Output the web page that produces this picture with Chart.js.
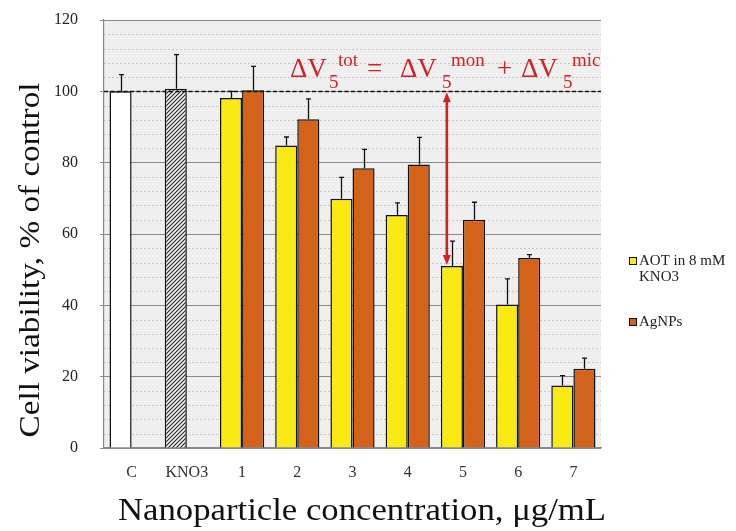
<!DOCTYPE html>
<html><head><meta charset="utf-8">
<script src="https://cdn.jsdelivr.net/npm/chart.js@4"></script>
<style>html,body{margin:0;padding:0;background:#fff}#wrap{width:736px;height:531px;position:relative}</style>
</head><body><div id="wrap"><canvas id="c" width="736" height="531"></canvas></div>
<script>
const categories = ['C', 'KNO3', '1', '2', '3', '4', '5', '6', '7'];
const aotValues = [100, 100.7, 98.1, 84.8, 69.9, 65.3, 51.0, 40.2, 17.5];
const aotErrors = [4.7, 9.6, 1.9, 2.4, 6.0, 3.4, 7.0, 7.2, 2.8];
const agValues = [null, null, 100.3, 92.2, 78.4, 79.5, 64.0, 53.3, 22.2];
const agErrors = [null, null, 6.7, 5.7, 5.3, 7.6, 4.9, 0.9, 3.0];
const yTicks = [0, 20, 40, 60, 80, 100, 120];
const minorStep = 4;
const refLine = 100;
const arrowIndex = 6;
const seriesNames = ['AOT in 8 mM', 'AgNPs'];
const legendSecondLine = 'KNO3';
const yTitle = 'Cell viability, % of control';
const xTitle = 'Nanoparticle concentration, \u03BCg/mL';

const YELLOW = '#f8ea12';
const ORANGE = '#d3621b';
const RED = '#d42027';
const SERIF = "'Liberation Serif', 'DejaVu Serif', serif";

function hatchPattern() {
  const p = document.createElement('canvas');
  p.width = 4; p.height = 4;
  const g = p.getContext('2d');
  g.fillStyle = '#f4f4f4'; g.fillRect(0, 0, 4, 4);
  g.strokeStyle = '#222'; g.lineWidth = 1.1;
  g.beginPath();
  g.moveTo(-1, 5); g.lineTo(5, -1);
  g.moveTo(-1, 1); g.lineTo(1, -1);
  g.moveTo(3, 5); g.lineTo(5, 3);
  g.stroke();
  return document.getElementById('c').getContext('2d').createPattern(p, 'repeat');
}
const hatch = hatchPattern();
const aotColors = categories.map((c, i) => i === 0 ? '#ffffff' : (i === 1 ? hatch : YELLOW));

function fitText(ctx, text, cx, cy, width) {
  const w = ctx.measureText(text).width;
  ctx.save();
  ctx.translate(cx, cy);
  ctx.scale(width / w, 1);
  ctx.fillText(text, 0, 0);
  ctx.restore();
}

const decor = {
  id: 'decor',
  beforeDraw(chart) {
    const { ctx, chartArea: a } = chart;
    ctx.save();
    ctx.fillStyle = '#efefef';
    ctx.fillRect(a.left, a.top, a.right - a.left, a.bottom - a.top);
    ctx.restore();
  },
  beforeDatasetsDraw(chart) {
    const { ctx, chartArea: a, scales: { y } } = chart;
    ctx.save();
    ctx.strokeStyle = '#c6c6c6';
    ctx.lineWidth = 1;
    ctx.setLineDash([2, 2]);
    for (let v = yTicks[0]; v <= yTicks[yTicks.length - 1]; v += minorStep) {
      if (yTicks.includes(v)) continue;
      const py = Math.round(y.getPixelForValue(v)) + 0.5;
      ctx.beginPath(); ctx.moveTo(a.left, py); ctx.lineTo(a.right, py); ctx.stroke();
    }
    ctx.restore();
  },
  afterDatasetsDraw(chart) {
    const { ctx, chartArea: a, scales: { y } } = chart;
    ctx.save();
    const errs = [aotErrors, agErrors];
    const vals = [aotValues, agValues];
    ctx.strokeStyle = '#111';
    ctx.lineWidth = 1.3;
    for (let d = 0; d < 2; d++) {
      const meta = chart.getDatasetMeta(d);
      meta.data.forEach((bar, i) => {
        if (vals[d][i] == null || errs[d][i] == null) return;
        const x = Math.round(bar.x) + 0.5;
        const y0 = y.getPixelForValue(vals[d][i]);
        const y1 = y.getPixelForValue(vals[d][i] + errs[d][i]);
        ctx.beginPath();
        ctx.moveTo(x, y0); ctx.lineTo(x, y1);
        ctx.moveTo(x - 2.5, y1); ctx.lineTo(x + 2.5, y1);
        ctx.stroke();
      });
    }
    const yr = Math.round(y.getPixelForValue(refLine)) + 0.5;
    ctx.strokeStyle = '#111';
    ctx.lineWidth = 1.4;
    ctx.setLineDash([4, 2.5]);
    ctx.beginPath(); ctx.moveTo(a.left, yr); ctx.lineTo(a.right, yr); ctx.stroke();
    ctx.setLineDash([]);
    const bar = chart.getDatasetMeta(0).data[arrowIndex];
    const ax = bar.x - bar.width * 0.23;
    const yt = y.getPixelForValue(refLine) + 1;
    const yb = y.getPixelForValue(aotValues[arrowIndex]) - 1;
    ctx.strokeStyle = RED; ctx.fillStyle = RED; ctx.lineWidth = 2.6;
    ctx.beginPath(); ctx.moveTo(ax, yt + 8); ctx.lineTo(ax, yb - 8); ctx.stroke();
    ctx.beginPath(); ctx.moveTo(ax, yt); ctx.lineTo(ax - 4, yt + 10); ctx.lineTo(ax + 4, yt + 10); ctx.closePath(); ctx.fill();
    ctx.beginPath(); ctx.moveTo(ax, yb); ctx.lineTo(ax - 4, yb - 10); ctx.lineTo(ax + 4, yb - 10); ctx.closePath(); ctx.fill();
    ctx.restore();
  },
  afterDraw(chart) {
    const { ctx, chartArea: a } = chart;
    ctx.save();
    ctx.fillStyle = RED;
    ctx.textBaseline = 'alphabetic';
    ctx.textAlign = 'left';
    const big = '27px ' + SERIF, small = '19px ' + SERIF;
    const L = a.left;
    const parts = [
      ['\u0394V', big, 186, 77], ['5', small, 225, 88], ['tot', small, 234, 66],
      ['=', big, 263, 77],
      ['\u0394V', big, 296, 77], ['5', small, 338, 88], ['mon', small, 347, 66],
      ['+', big, 393, 77],
      ['\u0394V', big, 417, 77], ['5', small, 459, 88], ['mic', small, 468, 66]
    ];
    parts.forEach(([t, f, dx, by]) => { ctx.font = f; ctx.fillText(t, L + dx, by); });
    ctx.font = '15px ' + SERIF;
    ctx.textBaseline = 'middle';
    const lx = 629;
    const items = [[YELLOW, 261], [ORANGE, 322]];
    items.forEach(([col, yy], k) => {
      ctx.fillStyle = col;
      ctx.fillRect(lx, yy - 3.5, 7, 7);
      ctx.strokeStyle = '#111'; ctx.lineWidth = 1;
      ctx.strokeRect(lx + 0.5, yy - 3.5, 7, 7);
      ctx.fillStyle = '#222';
      ctx.fillText(seriesNames[k], lx + 10, yy);
    });
    ctx.fillText(legendSecondLine, lx + 10, 277);
    ctx.fillStyle = '#111';
    ctx.textAlign = 'center';
    ctx.textBaseline = 'middle';
    ctx.font = '31px ' + SERIF;
    fitText(ctx, xTitle, 362, 512, 488);
    ctx.translate(31, 260);
    ctx.rotate(-Math.PI / 2);
    ctx.font = '30px ' + SERIF;
    fitText(ctx, yTitle, 0, 0, 355);
    ctx.restore();
  }
};

new Chart(document.getElementById('c'), {
  type: 'bar',
  data: {
    labels: categories,
    datasets: [
      { label: seriesNames[0], data: aotValues, backgroundColor: aotColors, borderColor: '#111', borderWidth: 1.5, borderSkipped: 'bottom', categoryPercentage: 0.8, barPercentage: 1.0 },
      { label: seriesNames[1], data: agValues, backgroundColor: ORANGE, borderColor: '#111', borderWidth: 1.5, borderSkipped: 'bottom', categoryPercentage: 0.8, barPercentage: 1.0 }
    ]
  },
  options: {
    responsive: false,
    animation: false,
    devicePixelRatio: 1,
    layout: { padding: { top: 20, right: 135, left: 0, bottom: 0 } },
    plugins: { legend: { display: false }, tooltip: { enabled: false } },
    scales: {
      x: {
        grid: { display: false },
        border: { display: true, color: '#8a8a8a', width: 1.2 },
        ticks: { color: '#333', font: { family: SERIF, size: 16 }, padding: 7, maxRotation: 0, autoSkip: false },
        afterFit(s) { s.height = 83; s.paddingLeft = 0; s.paddingRight = 0; }
      },
      y: {
        min: yTicks[0], max: yTicks[yTicks.length - 1],
        afterBuildTicks(s) { s.ticks = yTicks.map(v => ({ value: v })); },
        grid: { color: '#8a8a8a', lineWidth: 1, tickLength: 4, drawTicks: true },
        border: { display: true, color: '#8a8a8a', width: 1.2 },
        ticks: { color: '#222', font: { family: SERIF, size: 16 }, padding: 22 },
        afterFit(s) { s.width = 104; s.paddingTop = 0; s.paddingBottom = 0; }
      }
    }
  },
  plugins: [decor]
});
</script>
</body></html>
